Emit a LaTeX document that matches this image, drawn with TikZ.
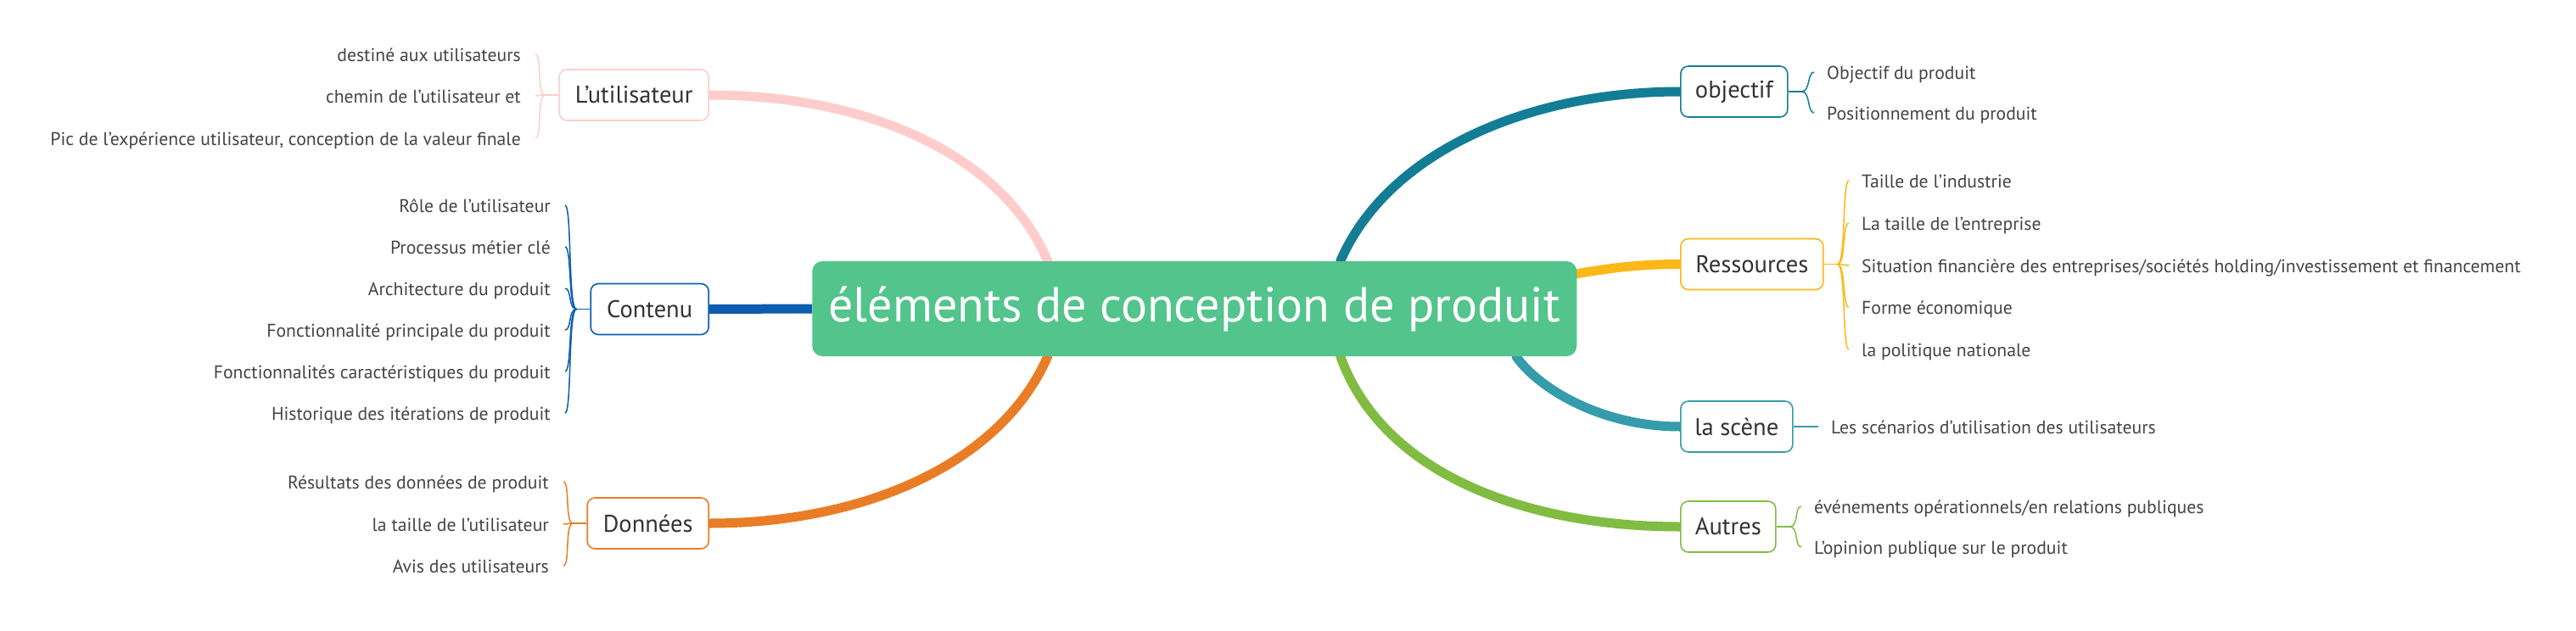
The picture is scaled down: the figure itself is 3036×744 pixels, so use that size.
\documentclass[tikz,border=0pt]{standalone}
\usepackage{fontspec}
\setmainfont{PT Sans}
\usetikzlibrary{backgrounds,calc}
\definecolor{cgreen}{HTML}{52C48C}
\definecolor{cpink}{HTML}{FFCCCC}
\definecolor{cblue}{HTML}{0C5DAF}
\definecolor{corange}{HTML}{E87D26}
\definecolor{cteald}{HTML}{147D96}
\definecolor{cgold}{HTML}{FCB718}
\definecolor{cteal}{HTML}{349CAA}
\definecolor{clime}{HTML}{80BC42}
\definecolor{txtb}{HTML}{333333}
\definecolor{txtl}{HTML}{444444}
\begin{document}
\begin{tikzpicture}[x=1pt,y=-1pt,
  central/.style={fill=cgreen, rounded corners=12pt, text=white,
    font=\fontsize{58}{66}\selectfont, minimum width=901pt, minimum height=112pt, inner sep=0pt},
  branchbox/.style={draw=#1, line width=1.6pt, rounded corners=9pt, fill=white, text=txtb,
    font=\fontsize{28.5}{32}\selectfont, minimum height=60pt, inner sep=0pt},
  leafl/.style={anchor=base east, text=txtl, font=\fontsize{21.7}{26}\selectfont, inner xsep=17pt, inner ysep=0pt},
  leafr/.style={anchor=base west, text=txtl, font=\fontsize{21.7}{26}\selectfont, inner xsep=15pt, inner ysep=0pt},
  bline/.style={draw=#1, line width=11pt, line cap=round},
  brace/.style={draw=#1, line width=1.5pt},
]
\useasboundingbox (0,0) rectangle (3036,744);

% central topic
\node[central] (c) at (1407.75,364) {éléments de conception de produit};

% main branches
\node[branchbox=cpink, anchor=east, minimum width=176pt] (user) at (836,112) {L'utilisateur};
\node[branchbox=cblue, anchor=east, minimum width=139pt] (cont) at (836,364.5) {Contenu};
\node[branchbox=corange, anchor=east, minimum width=143pt] (don) at (836,617) {Données};
\node[branchbox=cteald, anchor=west, minimum width=126pt] (obj) at (1980,108) {objectif};
\node[branchbox=cgold, anchor=west, minimum width=168pt] (res) at (1980,311.5) {Ressources};
\node[branchbox=cteal, anchor=west, minimum width=132pt] (sce) at (1980,503) {la scène};
\node[branchbox=clime, anchor=west, minimum width=112pt] (aut) at (1980,621) {Autres};

% branch connectors
\begin{scope}[on background layer]
  \draw[bline=cpink] ($(c.north)+(-173,0)$) .. controls (1180,180) and (1020,112) .. (user.east);
  \draw[bline=corange] ($(c.south)+(-173,0)$) .. controls (1180,546) and (1020,617) .. (don.east);
  \draw[bline=cblue, line cap=butt] (c.west) -- (cont.east);
  \draw[bline=cteald] ($(c.north)+(172,0)$) .. controls (1635,180) and (1800,108) .. (obj.west);
  \draw[bline=cgold] ($(c.east)+(-60,-30)$) .. controls (1880,318) and (1920,311.5) .. (res.west);
  \draw[bline=cteal] ($(c.south)+(379,0)$) .. controls (1815,460) and (1890,503) .. (sce.west);
  \draw[bline=clime] ($(c.south)+(172,0)$) .. controls (1630,560) and (1800,621) .. (aut.west);
\end{scope}

% leaves: L'utilisateur
\node[leafl] (u1) at (631,72) {destiné aux utilisateurs};
\node[leafl] (u2) at (631,121) {chemin de l'utilisateur et};
\node[leafl] (u3) at (631,171) {Pic de l'expérience utilisateur, conception de la valeur finale};
\coordinate (fu) at ($(user.west)+(-16,0)$);
\draw[brace=cpink] (user.west) -- (fu);
\foreach \l in {u1,u2,u3}
  \draw[brace=cpink] (fu) .. controls +(-10,0) and +(8,0) .. ($(\l.base east)+(0,-8)$);

% leaves: Contenu
\node[leafl] (k1) at (666,250) {Rôle de l'utilisateur};
\node[leafl] (k2) at (666,299) {Processus métier clé};
\node[leafl] (k3) at (666,348) {Architecture du produit};
\node[leafl] (k4) at (666,397) {Fonctionnalité principale du produit};
\node[leafl] (k5) at (666,446) {Fonctionnalités caractéristiques du produit};
\node[leafl] (k6) at (666,495) {Historique des itérations de produit};
\coordinate (fk) at ($(cont.west)+(-16,0)$);
\draw[brace=cblue] (cont.west) -- (fk);
\foreach \l in {k1,k2,k3,k4,k5,k6}
  \draw[brace=cblue] (fk) .. controls +(-10,0) and +(8,0) .. ($(\l.base east)+(0,-8)$);

% leaves: Données
\node[leafl] (d1) at (664,576) {Résultats des données de produit};
\node[leafl] (d2) at (664,626) {la taille de l'utilisateur};
\node[leafl] (d3) at (664,675) {Avis des utilisateurs};
\coordinate (fd) at ($(don.west)+(-16,0)$);
\draw[brace=corange] (don.west) -- (fd);
\foreach \l in {d1,d2,d3}
  \draw[brace=corange] (fd) .. controls +(-10,0) and +(8,0) .. ($(\l.base east)+(0,-8)$);

% leaves: objectif
\node[leafr] (o1) at (2138,93) {Objectif du produit};
\node[leafr] (o2) at (2138,141) {Positionnement du produit};
\coordinate (fo) at ($(obj.east)+(16,0)$);
\draw[brace=cteald] (obj.east) -- (fo);
\foreach \l in {o1,o2}
  \draw[brace=cteald] (fo) .. controls +(10,0) and +(-8,0) .. ($(\l.base west)+(0,-8)$);

% leaves: Ressources
\node[leafr] (r1) at (2179,221) {Taille de l'industrie};
\node[leafr] (r2) at (2179,271) {La taille de l'entreprise};
\node[leafr] (r3) at (2179,321) {Situation financière des entreprises/sociétés holding/investissement et financement};
\node[leafr] (r4) at (2179,370) {Forme économique};
\node[leafr] (r5) at (2179,420) {la politique nationale};
\coordinate (fr) at ($(res.east)+(16,0)$);
\draw[brace=cgold] (res.east) -- (fr);
\foreach \l in {r1,r2,r3,r4,r5}
  \draw[brace=cgold] (fr) .. controls +(10,0) and +(-8,0) .. ($(\l.base west)+(0,-8)$);

% leaves: la scène
\node[leafr] (s1) at (2143,511) {Les scénarios d'utilisation des utilisateurs};
\draw[brace=cteal] (sce.east) -- ($(s1.base west)+(0,-8)$);

% leaves: Autres
\node[leafr] (a1) at (2123,605) {événements opérationnels/en relations publiques};
\node[leafr] (a2) at (2123,653) {L'opinion publique sur le produit};
\coordinate (fa) at ($(aut.east)+(16,0)$);
\draw[brace=clime] (aut.east) -- (fa);
\foreach \l in {a1,a2}
  \draw[brace=clime] (fa) .. controls +(10,0) and +(-8,0) .. ($(\l.base west)+(0,-8)$);
\end{tikzpicture}
\end{document}
